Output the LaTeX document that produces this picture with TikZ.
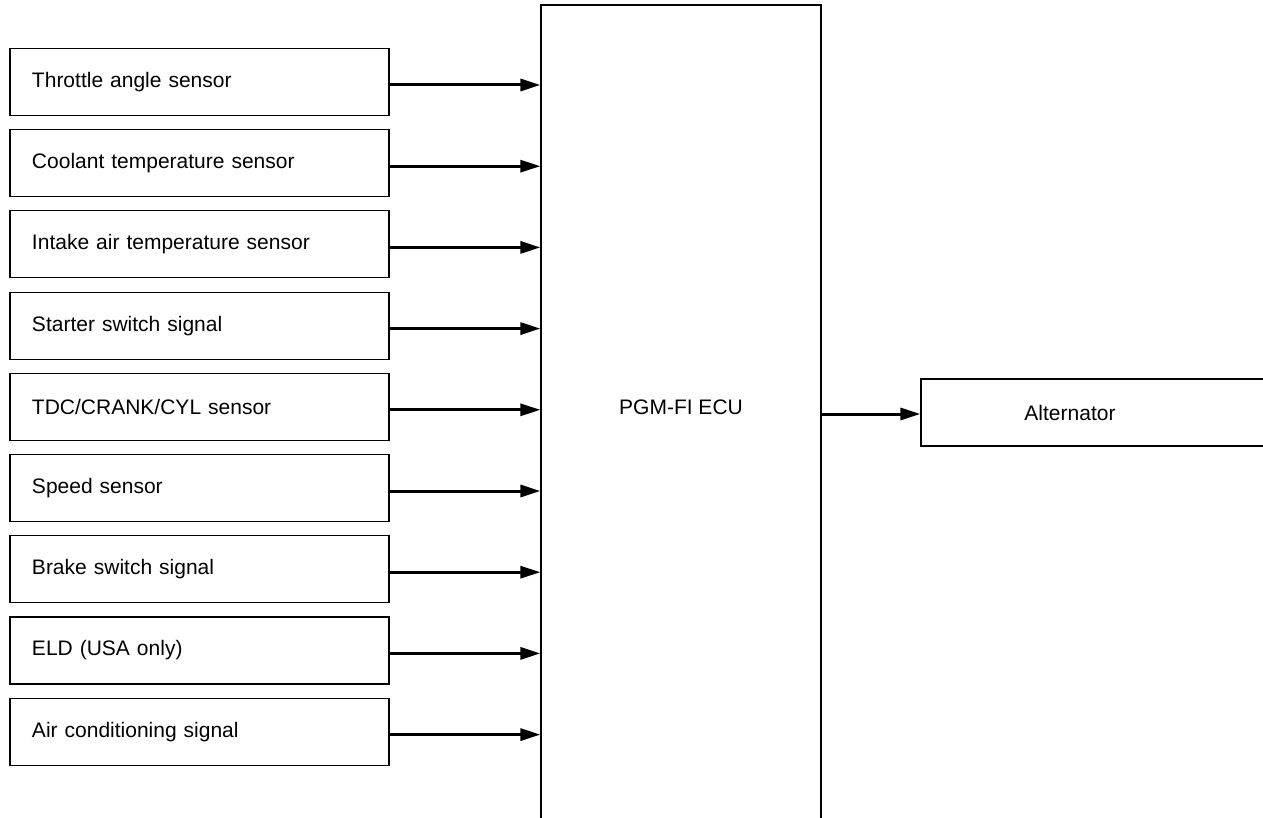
\documentclass[tikz,border=0pt]{standalone}
\usepackage{fontspec}
\setmainfont{Liberation Sans}
\usetikzlibrary{arrows.meta, positioning}
\tikzset{
  sensor/.style={rectangle, draw=black, line width=0.6pt, fill=white,
    font=\fontsize{10.5}{12}\selectfont, align=left,
    text width=167.5pt, inner xsep=11pt, inner ysep=0pt,
    minimum height=33.5pt, minimum width=189.5pt},
  unit/.style={rectangle, draw=black, line width=0.6pt, inner sep=0pt},
  lbl/.style={font=\fontsize{10.5}{12}\selectfont, inner sep=0pt},
  sig/.style={-{Triangle[length=10pt, width=6pt]}, line width=1.5pt},
}
\begin{document}
\begin{tikzpicture}[x=0.5pt, y=-0.5pt, node distance=6.5pt]
  \useasboundingbox (0,0) rectangle (1263,818);

  % ECU (runs off the bottom of the sheet)
  \node[unit, minimum width=140pt, minimum height=417.5pt] (ecu) at (681,422.5) {};
  \node[lbl] (ecutxt) at (681,407) {PGM-FI ECU};

  % inputs
  \node[sensor] (thr) at (199.5,82) {Throttle angle sensor};
  \node[sensor, below=of thr] (clt) {Coolant temperature sensor};
  \node[sensor, below=of clt] (iat) {Intake air temperature sensor};
  \node[sensor, below=of iat] (sta) {Starter switch signal};
  \node[sensor, below=of sta] (tdc) {TDC/CRANK/CYL sensor};
  \node[sensor, below=of tdc] (spd) {Speed sensor};
  \node[sensor, below=of spd] (brk) {Brake switch signal};
  \node[sensor, below=of brk] (eld) {ELD (USA only)};
  \node[sensor, below=of eld] (air) {Air conditioning signal};

  \draw[sig] ([yshift=-1.5pt]thr.east) -- ([yshift=-1.5pt]thr.east -| ecu.west);
  \draw[sig] ([yshift=-1.5pt]clt.east) -- ([yshift=-1.5pt]clt.east -| ecu.west);
  \draw[sig] ([yshift=-1.5pt]iat.east) -- ([yshift=-1.5pt]iat.east -| ecu.west);
  \draw[sig] ([yshift=-1.5pt]sta.east) -- ([yshift=-1.5pt]sta.east -| ecu.west);
  \draw[sig] ([yshift=-1.5pt]tdc.east) -- ([yshift=-1.5pt]tdc.east -| ecu.west);
  \draw[sig] ([yshift=-1.5pt]spd.east) -- ([yshift=-1.5pt]spd.east -| ecu.west);
  \draw[sig] ([yshift=-1.5pt]brk.east) -- ([yshift=-1.5pt]brk.east -| ecu.west);
  \draw[sig] ([yshift=-1.5pt]eld.east) -- ([yshift=-1.5pt]eld.east -| ecu.west);
  \draw[sig] ([yshift=-1.5pt]air.east) -- ([yshift=-1.5pt]air.east -| ecu.west);

  % output (runs off the right edge)
  \node[unit, minimum width=200pt, minimum height=33.5pt] (alt) at (1121,412.5) {};
  \node[lbl] (alttxt) at (1070,412.5) {Alternator};
  \draw[sig] ([yshift=-0.75pt]alt.west -| ecu.east) -- ([yshift=-0.75pt]alt.west);
\end{tikzpicture}
\end{document}
